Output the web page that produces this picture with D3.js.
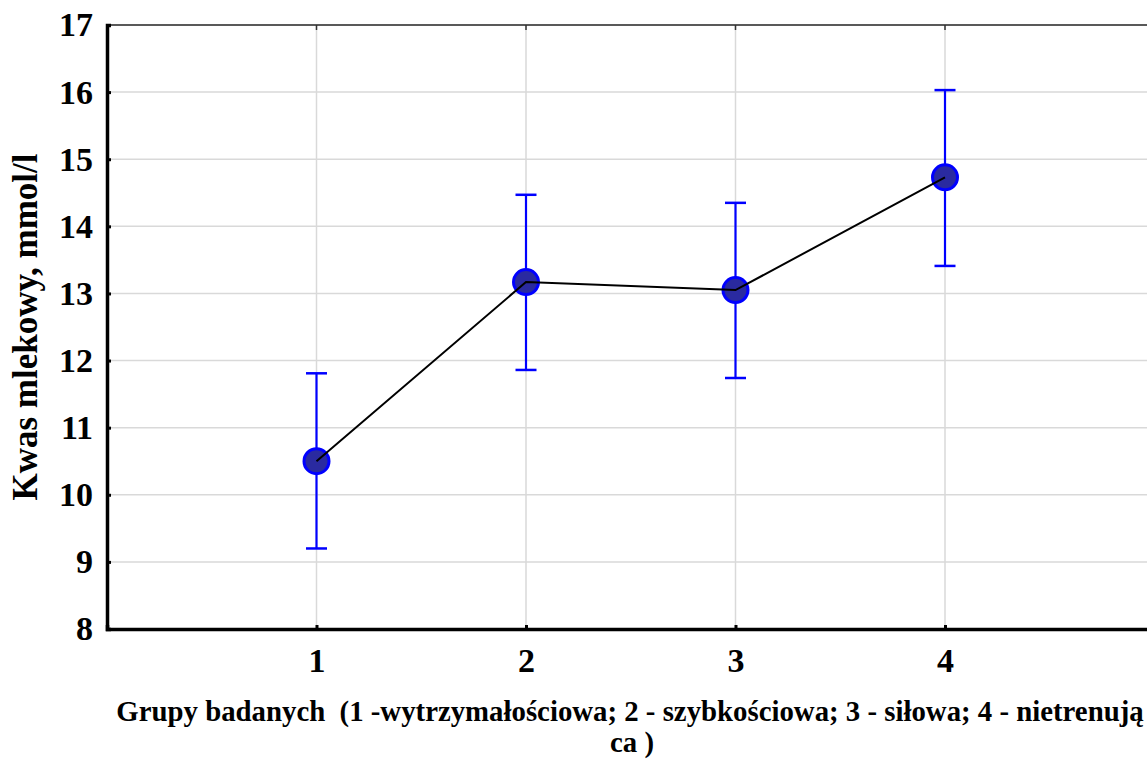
<!DOCTYPE html>
<html lang="en">
    <head>
        <meta charset="utf-8">
        <title>Kwas mlekowy</title>
        <script type="text/javascript" src="https://d3js.org/d3.v7.min.js"></script>
        <style type="text/css">
            body { margin: 0; background: #fff; }
            svg text { font-family: "Liberation Serif", "Times New Roman", Tinos, serif; font-weight: 700; fill: #000; }
        </style>
    </head>
    <body>
        <script type="text/javascript">

        //Data
        const groups = [1, 2, 3, 4];
        const means = [10.50, 13.17, 13.05, 14.73];
        const upper = [11.81, 14.47, 14.35, 16.03];
        const lower = [9.20, 11.86, 11.74, 13.41];
        const yTicks = [8, 9, 10, 11, 12, 13, 14, 15, 16, 17];
        const yLabel = "Kwas mlekowy, mmol/l";
        const xLabel1 = "Grupy badanych  (1 -wytrzymałościowa; 2 - szybkościowa; 3 - siłowa; 4 - nietrenują";
        const xLabel2 = "ca )";

        const width = 1147;
        const height = 760;
        const plotLeft = 107, plotTop = 25, plotBottom = 629;

        //Scales
        const xScale = d3.scaleLinear().domain([0, 5]).range([plotLeft, plotLeft + 5 * 209.5]);
        const yScale = d3.scaleLinear().domain([8, 17]).range([plotBottom, plotTop]);

        const svg = d3.select("body").append("svg")
            .attr("width", width)
            .attr("height", height);

        //Grid
        svg.append("g").selectAll("line")
            .data(yTicks.slice(1, -1))
            .enter().append("line")
            .attr("x1", plotLeft).attr("x2", width)
            .attr("y1", d => yScale(d)).attr("y2", d => yScale(d))
            .attr("stroke", "#d9d9d9").attr("stroke-width", 1.5);

        svg.append("g").selectAll("line")
            .data(groups)
            .enter().append("line")
            .attr("x1", d => xScale(d)).attr("x2", d => xScale(d))
            .attr("y1", plotTop).attr("y2", plotBottom)
            .attr("stroke", "#d9d9d9").attr("stroke-width", 1.5);

        //Top border with small ticks
        svg.append("line")
            .attr("x1", plotLeft).attr("x2", width)
            .attr("y1", plotTop).attr("y2", plotTop)
            .attr("stroke", "#222").attr("stroke-width", 1.5);
        svg.append("g").selectAll("line")
            .data(groups)
            .enter().append("line")
            .attr("x1", d => xScale(d)).attr("x2", d => xScale(d))
            .attr("y1", plotTop).attr("y2", plotTop + 5)
            .attr("stroke", "#333").attr("stroke-width", 1.5);

        //Axes
        const leftAxis = d3.axisLeft(yScale).tickValues(yTicks).tickFormat(d3.format("d")).tickSize(-4).tickPadding(14);
        const gy = svg.append("g")
            .attr("transform", "translate(" + plotLeft + ",0)")
            .call(leftAxis);
        gy.select(".domain").attr("stroke", "#000").attr("stroke-width", 3.5);
        gy.selectAll(".tick line").attr("stroke", "#000").attr("stroke-width", 3);
        gy.selectAll(".tick text").style("font-size", "34px");

        const bottomAxis = d3.axisBottom(xScale).tickValues(groups).tickFormat(d3.format("d")).tickSize(-4).tickPadding(19);
        const gx = svg.append("g")
            .attr("transform", "translate(0," + plotBottom + ")")
            .call(bottomAxis);
        gx.select(".domain").attr("stroke", "#000").attr("stroke-width", 3.5);
        gx.selectAll(".tick line").attr("stroke", "#000").attr("stroke-width", 3);
        gx.selectAll(".tick text").style("font-size", "34px");

        //Error bars
        const eb = svg.append("g").selectAll("g")
            .data(groups)
            .enter().append("g");
        eb.append("line")
            .attr("x1", d => xScale(d)).attr("x2", d => xScale(d))
            .attr("y1", (d, i) => yScale(upper[i])).attr("y2", (d, i) => yScale(lower[i]))
            .attr("stroke", "#0000ff").attr("stroke-width", 2.2);
        eb.append("line")
            .attr("x1", d => xScale(d) - 10.5).attr("x2", d => xScale(d) + 10.5)
            .attr("y1", (d, i) => yScale(upper[i])).attr("y2", (d, i) => yScale(upper[i]))
            .attr("stroke", "#0000ff").attr("stroke-width", 2.5);
        eb.append("line")
            .attr("x1", d => xScale(d) - 10.5).attr("x2", d => xScale(d) + 10.5)
            .attr("y1", (d, i) => yScale(lower[i])).attr("y2", (d, i) => yScale(lower[i]))
            .attr("stroke", "#0000ff").attr("stroke-width", 2.5);

        //Markers
        svg.append("g").selectAll("circle")
            .data(groups)
            .enter().append("circle")
            .attr("cx", d => xScale(d))
            .attr("cy", (d, i) => yScale(means[i]))
            .attr("r", 12.5)
            .attr("fill", "#2a2aa0")
            .attr("stroke", "#0000ff").attr("stroke-width", 3);

        //Line
        const line = d3.line()
            .x(d => xScale(d))
            .y((d, i) => yScale(means[i]));
        svg.append("path")
            .datum(groups)
            .attr("d", line)
            .attr("fill", "none")
            .attr("stroke", "#000").attr("stroke-width", 2);

        //Titles
        svg.append("text")
            .attr("transform", "translate(37,327) rotate(-90)")
            .attr("text-anchor", "middle")
            .style("font-size", "35px")
            .text(yLabel);

        svg.append("text")
            .attr("x", 630).attr("y", 721)
            .attr("text-anchor", "middle")
            .style("font-size", "28.8px")
            .style("white-space", "pre")
            .text(xLabel1);
        svg.append("text")
            .attr("x", 632).attr("y", 752)
            .attr("text-anchor", "middle")
            .style("font-size", "28.8px")
            .style("white-space", "pre")
            .text(xLabel2);

        </script>
    </body>
</html>
